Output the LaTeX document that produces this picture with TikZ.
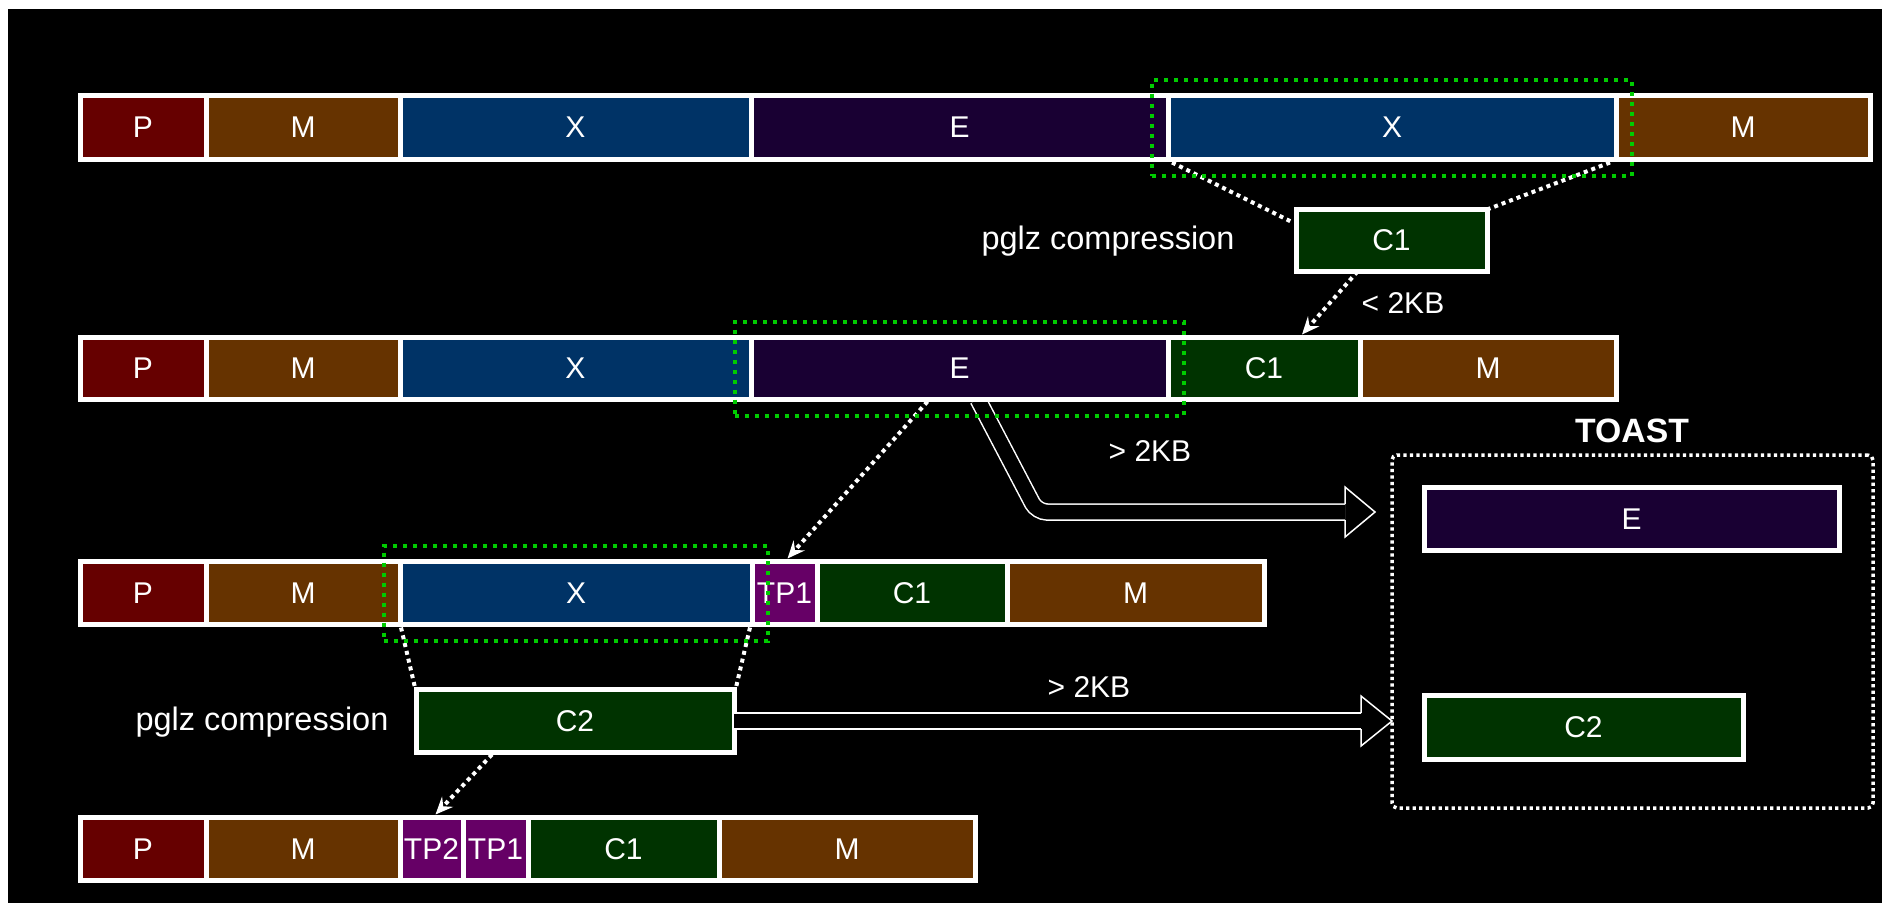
\documentclass[tikz,border=0pt]{standalone}
\usepackage{fontspec}
\setmainfont{Liberation Sans}
\usetikzlibrary{arrows.meta,calc,fit}
\definecolor{cP}{HTML}{660000}
\definecolor{cM}{HTML}{663300}
\definecolor{cX}{HTML}{003366}
\definecolor{cE}{HTML}{190033}
\definecolor{cC}{HTML}{003300}
\definecolor{cT}{HTML}{660066}
\definecolor{cG}{HTML}{00CC00}
\tikzset{
 cellst/.style={draw=white, line width=2pt, inner sep=0pt, outer sep=0pt, text=white, font=\fontsize{12}{14}\selectfont},
 greenbox/.style={draw=cG, line width=1.6pt, dash pattern=on 1.6pt off 2.4pt, inner sep=6.4pt, outer sep=0pt},
 wdot/.style={draw=white, line width=1.6pt, dash pattern=on 1.6pt off 1.6pt},
 wdotarrow/.style={wdot, -{Stealth[length=7pt,width=6pt,inset=2.5pt]}},
 flex/.style={draw=white, line width=0.6pt, double=black, double distance=5.8pt},
 headst/.style={draw=white, line width=0.6pt, line join=miter},
 lbl/.style={text=white, font=\fontsize{12}{14}\selectfont, inner sep=0pt},
 biglbl/.style={lbl, font=\fontsize{13}{15}\selectfont},
 toastst/.style={draw=white, line width=1.4pt, dash pattern=on 1.3pt off 1.3pt, rounded corners=2pt, inner sep=0pt, outer sep=0pt},
}
\newcommand{\cellbox}[7]{\node[cellst, fill=#6, minimum width={(#3-(#2))*0.4pt}, minimum height={(#5-(#4))*0.4pt}] (#1) at ({(#2+#3)/2},{(#4+#5)/2}) {#7};}
\begin{document}
\begin{tikzpicture}[x=0.4pt,y=-0.4pt]
\useasboundingbox (0,0) rectangle (1882,903);
\fill[white] (0,0) rectangle (1882,903);
\fill[black] (8,9) rectangle (1882,903);

% coordinates for free ends of the wide arrows
\coordinate (f1b) at (1037,512);
\coordinate (f1e) at (1345,512);
\coordinate (f2e) at (1361,721);

% wide arrows (drawn first, boxes cover their starts)
\draw[flex, rounded corners=4pt] (978,399.5) -- (f1b) -- (f1e);
\draw[headst] ($(f1e)+(0,-8)$) -- ++(0,-17) -- ($(f1e)+(30,0)$) -- ($(f1e)+(0,25)$) -- ++(0,-17);

% row 1
\cellbox{r1p}{80}{206}{95.5}{159.5}{cP}{P}
\cellbox{r1m}{206}{400}{95.5}{159.5}{cM}{M}
\cellbox{r1x}{400}{751}{95.5}{159.5}{cX}{X}
\cellbox{r1e}{751}{1168}{95.5}{159.5}{cE}{E}
\cellbox{r1x2}{1168}{1616}{95.5}{159.5}{cX}{X}
\cellbox{r1m2}{1616}{1870}{95.5}{159.5}{cM}{M}

% compressed C1
\cellbox{c1}{1296}{1487}{209.5}{271.5}{cC}{C1}

% row 2
\cellbox{r2p}{80}{206}{337.5}{399.5}{cP}{P}
\cellbox{r2m}{206}{400}{337.5}{399.5}{cM}{M}
\cellbox{r2x}{400}{751}{337.5}{399.5}{cX}{X}
\cellbox{r2e}{751}{1168}{337.5}{399.5}{cE}{E}
\cellbox{r2c}{1168}{1360}{337.5}{399.5}{cC}{C1}
\cellbox{r2m2}{1360}{1616}{337.5}{399.5}{cM}{M}

% row 3
\cellbox{r3p}{80}{206}{561.5}{624.5}{cP}{P}
\cellbox{r3m}{206}{400}{561.5}{624.5}{cM}{M}
\cellbox{r3x}{400}{752}{561.5}{624.5}{cX}{X}
\cellbox{r3t}{752}{817}{561.5}{624.5}{cT}{TP1}
\cellbox{r3c}{817}{1007}{561.5}{624.5}{cC}{C1}
\cellbox{r3m2}{1007}{1264}{561.5}{624.5}{cM}{M}

% compressed C2
\cellbox{c2}{416}{734}{689.5}{752.5}{cC}{C2}

% row 4
\cellbox{r4p}{80}{206}{817.5}{880.5}{cP}{P}
\cellbox{r4m}{206}{400}{817.5}{880.5}{cM}{M}
\cellbox{r4t2}{400}{463}{817.5}{880.5}{cT}{TP2}
\cellbox{r4t1}{463}{528}{817.5}{880.5}{cT}{TP1}
\cellbox{r4c}{528}{719}{817.5}{880.5}{cC}{C1}
\cellbox{r4m2}{719}{975}{817.5}{880.5}{cM}{M}

% TOAST
\node[toastst, minimum width={481*0.4pt}, minimum height={353*0.4pt}] (toast) at (1632.5,631.5) {};
\node[lbl, font=\bfseries\fontsize{13.5}{16}\selectfont] (toastlbl) at (1632,431) {TOAST};
\cellbox{te}{1424}{1839}{487.5}{550.5}{cE}{E}
\cellbox{tc2}{1424}{1743}{695.5}{759.5}{cC}{C2}

% second wide arrow
\draw[flex] (c2.east) -- (f2e);
\draw[headst] ($(f2e)+(0,-8)$) -- ++(0,-17) -- (toast.west |- f2e) -- ($(f2e)+(0,25)$) -- ++(0,-17);

% dotted connectors
\draw[wdot] ($(r1x2.south west)+(4,3)$) -- ($(c1.west)+(-3,-18)$);
\draw[wdot] ($(r1x2.south east)+(-6,3)$) -- (c1.north east);
\draw[wdotarrow] ($(c1.south)+(-34,0)$) -- ($(r2c.north)+(38,-3)$);
\draw[wdotarrow] ($(r2e.south)+(-32,2)$) -- ($(r3t.north)+(3,-3)$);
\draw[wdot] ($(r3x.south west)+(1,3)$) -- ($(c2.north west)+(-1,-2)$);
\draw[wdot] ($(r3x.south east)+(-2,3)$) -- ($(c2.north east)+(2,-2)$);
\draw[wdotarrow] ($(c2.south)+(-83,2)$) -- ($(r4t2.north)+(4,-3)$);

% green selection boxes
\node[greenbox, fit=(r1x2)] (g1) {};
\node[greenbox, fit=(r2e)] (g2) {};
\node[greenbox, fit=(r3x)] (g3) {};

% labels
\node[biglbl] (pglz1) at (1108,241) {pglz compression};
\node[lbl] (lt1) at (1403,303) {< 2KB};
\node[lbl] (gt1) at (1150,451) {> 2KB};
\node[lbl] (gt2) at (1089,687) {> 2KB};
\node[biglbl] (pglz2) at (262,722) {pglz compression};
\end{tikzpicture}
\end{document}
